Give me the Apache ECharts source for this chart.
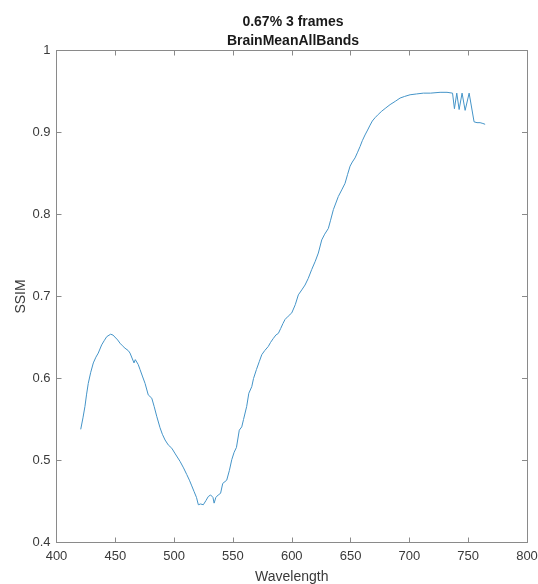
<!DOCTYPE html>
<html>
<head>
<meta charset="utf-8">
<title>BrainMeanAllBands</title>
<script src="https://cdn.jsdelivr.net/npm/echarts@6/dist/echarts.min.js"></script>
<style>
	html, body { margin: 0; padding: 0; background: #fff; }
	#chart { width: 538px; height: 584px; }
</style>
</head>
<body>
<div id="chart"></div>
<script>
// wavelength (nm) and SSIM
var wavelength = [
	420.6, 422.5, 424.2, 425.5, 427, 429, 431.3, 433.5, 435.5, 438.4, 440.5, 442.7, 446, 448, 449.7,
	452, 454, 456, 458.2, 459.7, 461, 462.5, 464, 465.9, 467, 468.2, 469.5, 471, 473, 475.3,
	478, 481, 483, 485.2, 488, 490, 492.3, 495, 498, 501, 505, 508, 510.7, 513, 515,
	517, 519, 520.6, 522.5, 524.8, 527, 529, 531, 533, 534, 535.5, 537.5, 539.5, 541.3, 543,
	544.7, 547, 549, 551, 553, 555.4, 557.5, 559, 561.7, 563.5, 566, 567.5, 570, 572.5, 574.5,
	577, 580, 582, 584.4, 586.5, 588.6, 590.6, 592.5, 594.3, 597, 600, 603, 605.6, 608.5, 611.3,
	614, 617, 620, 622.6, 625.5, 628, 631.1, 633, 635.4, 637.5, 639.6, 642.5, 645.3, 647.5, 649.6,
	651.5, 653.8, 656, 658.1, 660, 662.3, 664.5, 666.6, 668.5, 670.8, 673.5, 676.5, 680, 683.6, 688,
	692.1, 696, 700.6, 706, 711.9, 718, 726.1, 732, 736.7, 738.3, 740.3, 742.3, 744.8, 747.4, 750.8,
	755, 757.5, 760.1, 762.5, 764.4
];
var ssim = [
	0.538, 0.552, 0.566, 0.580, 0.594, 0.607, 0.619, 0.626, 0.631, 0.641, 0.646, 0.651, 0.654, 0.653, 0.651,
	0.647, 0.643, 0.640, 0.637, 0.639, 0.634, 0.631, 0.630, 0.619, 0.623, 0.625, 0.617, 0.611, 0.603, 0.594,
	0.580, 0.576, 0.566, 0.554, 0.540, 0.532, 0.525, 0.519, 0.515, 0.508, 0.499, 0.491, 0.483, 0.476, 0.469,
	0.462, 0.455, 0.446, 0.447, 0.446, 0.451, 0.456, 0.458, 0.455, 0.448, 0.455, 0.458, 0.460, 0.472, 0.474,
	0.476, 0.488, 0.501, 0.510, 0.516, 0.537, 0.541, 0.550, 0.566, 0.582, 0.590, 0.600, 0.611, 0.621, 0.629,
	0.634, 0.639, 0.644, 0.649, 0.653, 0.655, 0.661, 0.667, 0.672, 0.676, 0.680, 0.690, 0.702, 0.708, 0.714,
	0.722, 0.733, 0.743, 0.753, 0.769, 0.776, 0.783, 0.793, 0.806, 0.814, 0.822, 0.830, 0.838, 0.849, 0.859,
	0.864, 0.869, 0.876, 0.883, 0.890, 0.897, 0.903, 0.909, 0.914, 0.918, 0.922, 0.926, 0.930, 0.934, 0.938,
	0.942, 0.944, 0.946, 0.947, 0.948, 0.948, 0.949, 0.949, 0.948, 0.929, 0.948, 0.928, 0.948, 0.927, 0.948,
	0.913, 0.912, 0.912, 0.911, 0.910
];
var titleLines = ['0.67% 3 frames', 'BrainMeanAllBands'];

var points = [];
for (var i = 0; i < wavelength.length; i++) {
	points.push([wavelength[i], ssim[i]]);
}

var axisGray = '#8a8a8a';
var textGray = '#3a3a3a';
var font = 'Liberation Sans, Arial, sans-serif';

var myChart = echarts.init(document.getElementById('chart'));
var option = {
	animation: false,
	title: {
		text: titleLines.join('\n'),
		left: 288,
		top: 8,
		textAlign: 'center',
		textStyle: { fontFamily: font, fontSize: 14, fontWeight: 'bold', color: '#1a1a1a', lineHeight: 19 }
	},
	grid: { left: 56.5, right: 11, top: 50.5, bottom: 41.5, outerBoundsMode: 'none' },
	xAxis: [{
		type: 'value', min: 400, max: 800, interval: 50,
		name: 'Wavelength', nameLocation: 'middle', nameGap: 28, nameMoveOverlap: false,
		nameTextStyle: { fontFamily: font, fontSize: 14, color: textGray },
		axisLine: { lineStyle: { color: axisGray } },
		axisTick: { inside: true, length: 5, lineStyle: { color: axisGray } },
		axisLabel: { fontFamily: font, fontSize: 13, color: textGray, margin: 7 },
		splitLine: { show: false }
	}, {
		type: 'value', min: 400, max: 800, interval: 50, position: 'top',
		axisLine: { lineStyle: { color: axisGray } },
		axisTick: { inside: true, length: 5, lineStyle: { color: axisGray } },
		axisLabel: { show: false },
		splitLine: { show: false }
	}],
	yAxis: [{
		type: 'value', min: 0.4, max: 1, interval: 0.1,
		name: 'SSIM', nameLocation: 'middle', nameGap: 28, nameMoveOverlap: false,
		nameTextStyle: { fontFamily: font, fontSize: 14, color: textGray },
		axisLine: { show: true, lineStyle: { color: axisGray } },
		axisTick: { show: true, inside: true, length: 5, lineStyle: { color: axisGray } },
		axisLabel: { fontFamily: font, fontSize: 13, color: textGray, margin: 6 },
		splitLine: { show: false }
	}, {
		type: 'value', min: 0.4, max: 1, interval: 0.1, position: 'right',
		axisLine: { show: true, lineStyle: { color: axisGray } },
		axisTick: { show: true, inside: true, length: 5, lineStyle: { color: axisGray } },
		axisLabel: { show: false },
		splitLine: { show: false }
	}],
	series: [{
		type: 'line',
		data: points,
		showSymbol: false,
		lineStyle: { color: '#4494c8', width: 1 }
	}]
};
myChart.setOption(option);
</script>
</body>
</html>
